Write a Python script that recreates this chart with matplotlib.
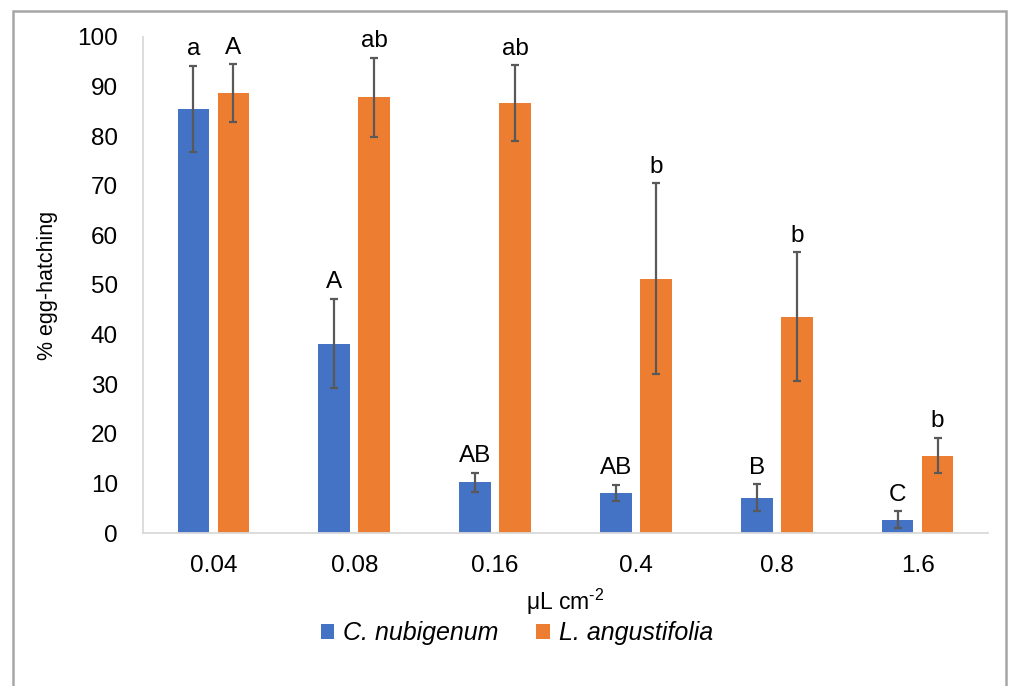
import matplotlib
matplotlib.use("Agg")
import matplotlib.pyplot as plt
import numpy as np
from matplotlib.patches import Rectangle

plt.rcParams['font.family'] = ['Liberation Sans', 'DejaVu Sans']
plt.rcParams['mathtext.fontset'] = 'custom'
plt.rcParams['mathtext.rm'] = 'Liberation Sans'

categories = ["0.04", "0.08", "0.16", "0.4", "0.8", "1.6"]
series_names = ["C. nubigenum", "L. angustifolia"]
c_nub = [85.5, 38.2, 10.2, 8.1, 7.1, 2.7]
c_nub_err = [8.7, 9.0, 2.0, 1.6, 2.7, 1.7]
l_ang = [88.7, 87.8, 86.7, 51.3, 43.6, 15.6]
l_ang_err = [5.8, 8.0, 7.6, 19.2, 13.0, 3.6]
c_nub_letters = ["a", "A", "AB", "AB", "B", "C"]
l_ang_letters = ["A", "ab", "ab", "b", "b", "b"]
y_ticks = [0, 10, 20, 30, 40, 50, 60, 70, 80, 90, 100]

blue = "#4472C4"
orange = "#ED7D31"
errc = "#595959"
fs = 17.5

fig = plt.figure(figsize=(10.13, 6.86), dpi=100)
ax = fig.add_axes([0.1412, 0.2230, 0.9753 - 0.1412, 0.9461 - 0.2230])

x = np.arange(len(categories))
w = 0.225
gap = 0.059
off = (w + gap) / 2

ekw = dict(ecolor=errc, elinewidth=1.6, capsize=3, capthick=1.6)
b1 = ax.bar(x - off, c_nub, w, color=blue, yerr=c_nub_err, error_kw=ekw, label=series_names[0], zorder=2)
b2 = ax.bar(x + off, l_ang, w, color=orange, yerr=l_ang_err, error_kw=ekw, label=series_names[1], zorder=2)

for xi, v, e, t in zip(x - off, c_nub, c_nub_err, c_nub_letters):
    ax.annotate(t, (xi, v + e), xytext=(0, 4), textcoords="offset points",
                ha="center", va="bottom", fontsize=fs)
for xi, v, e, t in zip(x + off, l_ang, l_ang_err, l_ang_letters):
    ax.annotate(t, (xi, v + e), xytext=(0, 4), textcoords="offset points",
                ha="center", va="bottom", fontsize=fs)

ax.set_xlim(-0.5, len(categories) - 0.5)
ax.set_ylim(0, 100)
ax.set_yticks(y_ticks)
ax.set_xticks(x)
ax.set_xticklabels(categories)
ax.tick_params(axis="both", length=0, labelsize=fs, colors="black")
ax.tick_params(axis="y", pad=18)
ax.tick_params(axis="x", pad=16)
for s in ["top", "right"]:
    ax.spines[s].set_visible(False)
ax.spines["bottom"].set_color("#D9D9D9")
ax.spines["left"].set_color("#D9D9D9")
ax.spines["bottom"].set_linewidth(1.3)
ax.spines["left"].set_linewidth(1.3)

ax.set_ylabel("% egg-hatching", fontsize=15.5, labelpad=14)
ax.set_xlabel("μL cm$^{\\text{-2}}$", fontsize=16.5, labelpad=7)

leg = fig.legend(handles=[b1, b2], labels=series_names, loc="center",
                 bbox_to_anchor=(0.51, 0.077), ncol=2, frameon=False,
                 handlelength=0.55, handleheight=0.55, handletextpad=0.35,
                 columnspacing=1.5, prop={"size": 18, "style": "italic"})

fig.patches.append(Rectangle((0.0128, -0.01), 0.993 - 0.0128, 0.984 + 0.01,
                             transform=fig.transFigure, fill=False,
                             edgecolor="#A6A6A6", linewidth=1.8))

fig.savefig("out.png", dpi=100)
